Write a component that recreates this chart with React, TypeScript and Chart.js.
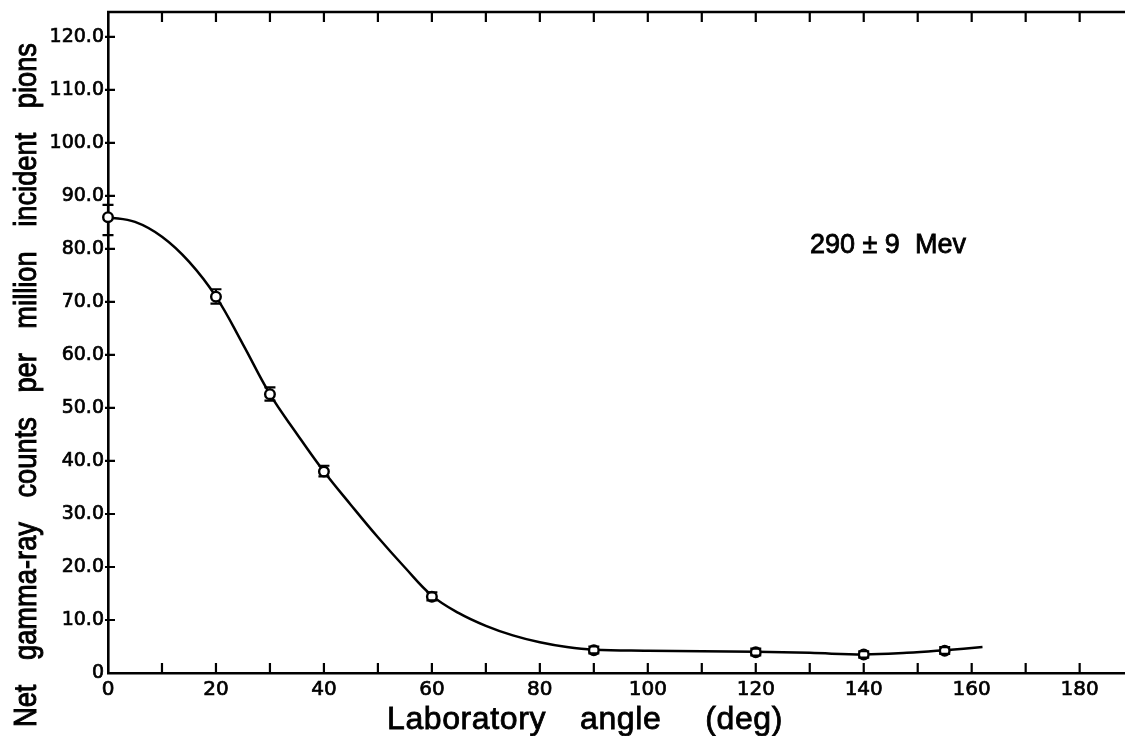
import React, { useEffect, useRef } from "react";
import { Chart, registerables } from "chart.js";

Chart.register(...registerables);

// Measured points (laboratory angle in degrees, net counts per million pions)
const angleDeg = [0, 20, 30, 40, 60, 90, 120, 140, 155];
const netCounts = [86.0, 71.0, 52.6, 38.0, 14.4, 4.3, 3.9, 3.5, 4.2];
const errLow = [82.6, 69.7, 51.4, 37.1, 13.7, 3.7, 3.3, 2.9, 3.6];
const errHigh = [88.3, 72.4, 53.9, 39.1, 15.2, 5.0, 4.6, 4.1, 4.9];

// Hand-drawn smooth curve through the points
const curveAngle = [0, 5, 10, 15, 20, 25, 30, 35, 40, 45, 50, 55, 60, 65, 70, 75, 80, 85, 90, 100, 110, 120, 130, 140, 148, 155, 162];
const curveCounts = [86.0, 85.1, 82.3, 77.6, 71.0, 62.0, 52.6, 45.1, 38.0, 31.7, 25.6, 19.9, 14.6, 11.3, 8.9, 7.1, 5.8, 4.9, 4.4, 4.2, 4.1, 4.0, 3.8, 3.5, 3.8, 4.3, 4.9];

const xTickLabels = [0, 20, 40, 60, 80, 100, 120, 140, 160, 180];
const xTickMarks = [10, 20, 30, 40, 50, 60, 70, 80, 90, 100, 110, 120, 130, 140, 150, 160, 170, 180];
const yTickValues = [0, 10, 20, 30, 40, 50, 60, 70, 80, 90, 100, 110, 120];

const yTitleWords = ["Net", "gamma-ray", "counts", "per", "million", "incident", "pions"];
const xTitleWords = ["Laboratory", "angle", "(deg)"];
const energyNote = "290 ± 9  Mev";

const X_MAX = 188.4;
const Y_MAX = 124.7;

function inkText(ctx: any, text: string, x: number, y: number, w = 0.8) {
  ctx.fillText(text, x, y);
  ctx.lineWidth = w;
  ctx.strokeText(text, x, y);
}

const decorPlugin = {
  id: "decor",
  afterDatasetsDraw(chart: any) {
    const ctx = chart.ctx;
    const xs = chart.scales.x;
    const ys = chart.scales.y;
    const area = chart.chartArea;
    ctx.save();
    ctx.strokeStyle = "#000";
    ctx.fillStyle = "#000";
    ctx.lineCap = "butt";

    // error bars
    ctx.lineWidth = 2.2;
    const r = 5.5;
    angleDeg.forEach((a, i) => {
      const px = xs.getPixelForValue(a);
      const py = ys.getPixelForValue(netCounts[i]);
      const lo = ys.getPixelForValue(errLow[i]);
      const hi = ys.getPixelForValue(errHigh[i]);
      ctx.beginPath();
      if (hi < py - r) { ctx.moveTo(px, hi); ctx.lineTo(px, py - r); }
      if (lo > py + r) { ctx.moveTo(px, py + r); ctx.lineTo(px, lo); }
      ctx.moveTo(px - 5.5, hi); ctx.lineTo(px + 5.5, hi);
      ctx.moveTo(px - 5.5, lo); ctx.lineTo(px + 5.5, lo);
      ctx.stroke();
    });

    // frame top line
    ctx.lineWidth = 2.6;
    ctx.beginPath();
    ctx.moveTo(area.left - 1, area.top);
    ctx.lineTo(chart.width, area.top);
    ctx.stroke();

    // inside tick marks
    ctx.lineWidth = 2.2;
    ctx.beginPath();
    xTickMarks.forEach((v) => {
      const px = xs.getPixelForValue(v);
      ctx.moveTo(px, area.bottom);
      ctx.lineTo(px, area.bottom - 10);
      ctx.moveTo(px, area.top);
      ctx.lineTo(px, area.top + 10);
    });
    yTickValues.forEach((v) => {
      if (v === 0) return;
      const py = ys.getPixelForValue(v);
      ctx.moveTo(area.left - 3, py);
      ctx.lineTo(area.left + 7, py);
    });
    ctx.stroke();

    // annotation
    ctx.font = "27px 'Liberation Sans', Arial, sans-serif";
    ctx.textAlign = "left";
    ctx.textBaseline = "alphabetic";
    inkText(ctx, energyNote, 810, 253);

    // x title
    ctx.font = "32px 'Liberation Sans', Arial, sans-serif";
    (ctx as any).letterSpacing = "0.6px";
    const xGaps = [34, 44];
    let cx = 387;
    xTitleWords.forEach((w, i) => {
      inkText(ctx, w, cx, 729);
      cx += ctx.measureText(w).width + (xGaps[i] || 0);
    });
    (ctx as any).letterSpacing = "0px";

    // y title (rotated, words spread over the span)
    ctx.font = "31px 'Liberation Sans', Arial, sans-serif";
    const sx = 0.88;
    const yWidths = yTitleWords.map((w) => ctx.measureText(w).width * sx);
    const ySum = yWidths.reduce((s, w) => s + w, 0);
    const spanStart = 727;
    const spanEnd = 43;
    const yGap = (spanStart - spanEnd - ySum) / (yTitleWords.length - 1);
    let cy = spanStart;
    yTitleWords.forEach((w, i) => {
      ctx.save();
      ctx.translate(36, cy);
      ctx.rotate(-Math.PI / 2);
      ctx.scale(sx, 1);
      inkText(ctx, w, 0, 0, 1.0);
      ctx.restore();
      cy -= yWidths[i] + yGap;
    });

    ctx.restore();
  },
};

export default function App() {
  const ref = useRef<HTMLCanvasElement | null>(null);

  useEffect(() => {
    document.body.style.margin = "0";
    document.body.style.background = "#fff";
    if (!ref.current) return;
    const chart = new Chart(ref.current, {
      type: "scatter",
      data: {
        datasets: [
          {
            label: "points",
            data: angleDeg.map((a, i) => ({ x: a, y: netCounts[i] })),
            pointStyle: "circle",
            pointRadius: 4.8,
            pointBorderWidth: 2.4,
            pointBackgroundColor: "#fff",
            pointBorderColor: "#000",
            showLine: false,
            clip: false,
            order: 0,
          } as any,
          {
            label: "curve",
            data: curveAngle.map((a, i) => ({ x: a, y: curveCounts[i] })),
            showLine: true,
            borderColor: "#000",
            borderWidth: 2.5,
            pointRadius: 0,
            tension: 0.4,
            fill: false,
            order: 1,
          } as any,
        ],
      },
      options: {
        responsive: false,
        animation: false,
        layout: { autoPadding: false, padding: { top: 12, right: 0, left: 0, bottom: 0 } },
        plugins: {
          legend: { display: false },
          tooltip: { enabled: false },
          title: { display: false },
        },
        scales: {
          x: {
            type: "linear",
            min: 0,
            max: X_MAX,
            afterBuildTicks: (s: any) => {
              s.ticks = xTickLabels.map((v) => ({ value: v }));
            },
            afterFit: (s: any) => {
              s.height = 63;
              s.paddingLeft = 0;
              s.paddingRight = 0;
            },
            grid: { display: false, drawTicks: false },
            border: { display: true, color: "#000", width: 2.6 },
            ticks: {
              color: "#000",
              textStrokeColor: "#000",
              textStrokeWidth: 0.7,
              padding: 5,
              maxRotation: 0,
              autoSkip: false,
              font: { family: "'DejaVu Sans', sans-serif", size: 20 },
              callback: (v: any) => String(v),
            },
          },
          y: {
            type: "linear",
            min: 0,
            max: Y_MAX,
            afterBuildTicks: (s: any) => {
              s.ticks = yTickValues.map((v) => ({ value: v }));
            },
            afterFit: (s: any) => {
              s.width = 108;
              s.paddingTop = 0;
              s.paddingBottom = 0;
            },
            grid: { display: false, drawTicks: false },
            border: { display: true, color: "#000", width: 2.6 },
            ticks: {
              color: "#000",
              textStrokeColor: "#000",
              textStrokeWidth: 0.7,
              padding: 4,
              autoSkip: false,
              font: { family: "'DejaVu Sans', sans-serif", size: 19 },
              callback: (v: any) => (Number(v) === 0 ? "0" : Number(v).toFixed(1)),
            },
          },
        },
      },
      plugins: [decorPlugin],
    });
    return () => chart.destroy();
  }, []);

  return (
    <div style={{ width: 1125, height: 736, background: "#fff" }}>
      <canvas ref={ref} width={1125} height={736} style={{ display: "block" }} />
    </div>
  );
}
